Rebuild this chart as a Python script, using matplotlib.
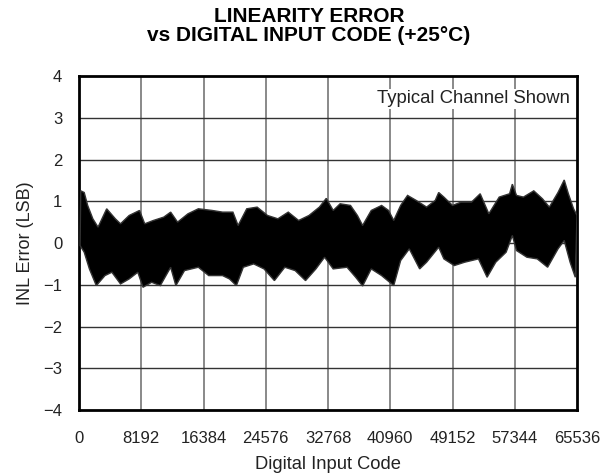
import matplotlib
matplotlib.use("Agg")
import matplotlib.pyplot as plt

plt.rcParams['font.family'] = ['Liberation Sans', 'DejaVu Sans']

# envelope of the INL band (code, LSB)
upper_code = [228, 683, 1138, 1820, 2503, 3641, 4779, 5461, 6599, 7964, 8647, 9785,
              11150, 12060, 12971, 14336, 15701, 17522, 18887, 20252, 20935, 22073,
              23438, 24803, 26169, 27534, 28899, 30264, 31630, 32540, 33450, 34361,
              35726, 36636, 37319, 38457, 39822, 40732, 41415, 42325, 43236, 44373,
              45739, 46876, 47332, 48014, 49152, 50290, 51655, 52793, 53931, 55296,
              56661, 57025, 57572, 58482, 59847, 60985, 61895, 63033, 63852, 64398,
              65081, 65536]
upper_inl = [1.25, 1.21, 0.90, 0.58, 0.38, 0.82, 0.58, 0.46, 0.66, 0.78, 0.46, 0.54,
             0.62, 0.74, 0.50, 0.70, 0.82, 0.78, 0.74, 0.74, 0.42, 0.82,
             0.86, 0.66, 0.58, 0.74, 0.54, 0.66, 0.86, 1.07, 0.78, 0.94,
             0.90, 0.66, 0.42, 0.78, 0.90, 0.78, 0.54, 0.90, 1.14, 1.02,
             0.86, 1.02, 1.21, 1.10, 0.90, 0.98, 0.98, 1.18, 0.70, 1.10,
             1.18, 1.41, 1.14, 1.10, 1.25, 1.06, 0.86, 1.21, 1.51, 1.18,
             0.82, 0.66]

lower_code = [137, 683, 1365, 2276, 3413, 4324, 5461, 6599, 7737, 8419, 9557, 10695,
              12060, 12743, 13881, 15701, 17067, 18887, 19797, 20708, 21618, 22983,
              24348, 25714, 27079, 28444, 29809, 31175, 32313, 33450, 35271, 36409,
              37319, 38457, 39822, 41415, 42325, 43463, 44828, 45739, 47332, 48014,
              49380, 50745, 52565, 53703, 54841, 56206, 57025, 57572, 58937, 60302,
              61667, 63033, 63852, 64626, 65308]
lower_inl = [-0.06, -0.22, -0.62, -1.02, -0.78, -0.70, -0.98, -0.86, -0.70, -1.06, -0.94, -1.02,
             -0.58, -1.02, -0.66, -0.58, -0.78, -0.78, -0.86, -1.02, -0.58, -0.50,
             -0.62, -0.90, -0.58, -0.66, -0.90, -0.62, -0.34, -0.62, -0.58, -0.82,
             -1.03, -0.62, -0.78, -1.02, -0.42, -0.14, -0.62, -0.46, -0.10, -0.38,
             -0.54, -0.46, -0.38, -0.82, -0.46, -0.22, 0.18, -0.18, -0.34, -0.38,
             -0.58, -0.14, 0.06, -0.46, -0.82]

x_ticks = [0, 8192, 16384, 24576, 32768, 40960, 49152, 57344, 65536]
y_ticks = [-4, -3, -2, -1, 0, 1, 2, 3, 4]

txt = "#222222"

fig = plt.figure(figsize=(6, 4.74), dpi=100)
ax = fig.add_axes([0.1317, 0.135, 0.83, 0.7046])

# band polygon: upper edge forward, lower edge back
poly_x = upper_code + lower_code[::-1]
poly_y = upper_inl + lower_inl[::-1]
ax.fill(poly_x, poly_y, facecolor="black", edgecolor="#333333", linewidth=1.0, zorder=3)

ax.set_xlim(0, 65536)
ax.set_ylim(-4, 4)
ax.set_xticks(x_ticks)
ax.set_yticks(y_ticks)
ax.set_yticklabels([str(v).replace("-", "\u2212") for v in y_ticks])
ax.tick_params(length=0, labelsize=12, colors=txt)
ax.tick_params(axis="x", pad=15)
ax.tick_params(axis="y", pad=12)

for x in x_ticks[1:-1]:
    ax.axvline(x, color="#808080", linewidth=1.3, zorder=1)
for y in y_ticks[1:-1]:
    ax.axhline(y, color="#333333", linewidth=1.0, zorder=1)

for s in ax.spines.values():
    s.set_linewidth(2)
    s.set_color("black")

ax.text(64600, 3.45, "Typical Channel Shown", ha="right", va="center",
        fontsize=13.3, color=txt, zorder=4,
        bbox=dict(facecolor="white", edgecolor="none", pad=1))

ax.set_xlabel("Digital Input Code", fontsize=13.2, color=txt, labelpad=7)
ax.set_ylabel("INL Error (LSB)", fontsize=13, color=txt, labelpad=7)

fig.text(0.515, 1 - 7 / 474, "LINEARITY ERROR\nvs DIGITAL INPUT CODE (+25\u00b0C)",
         ha="center", va="top", fontsize=15, fontweight="bold", linespacing=1.0)

fig.savefig("out.png", dpi=100)
